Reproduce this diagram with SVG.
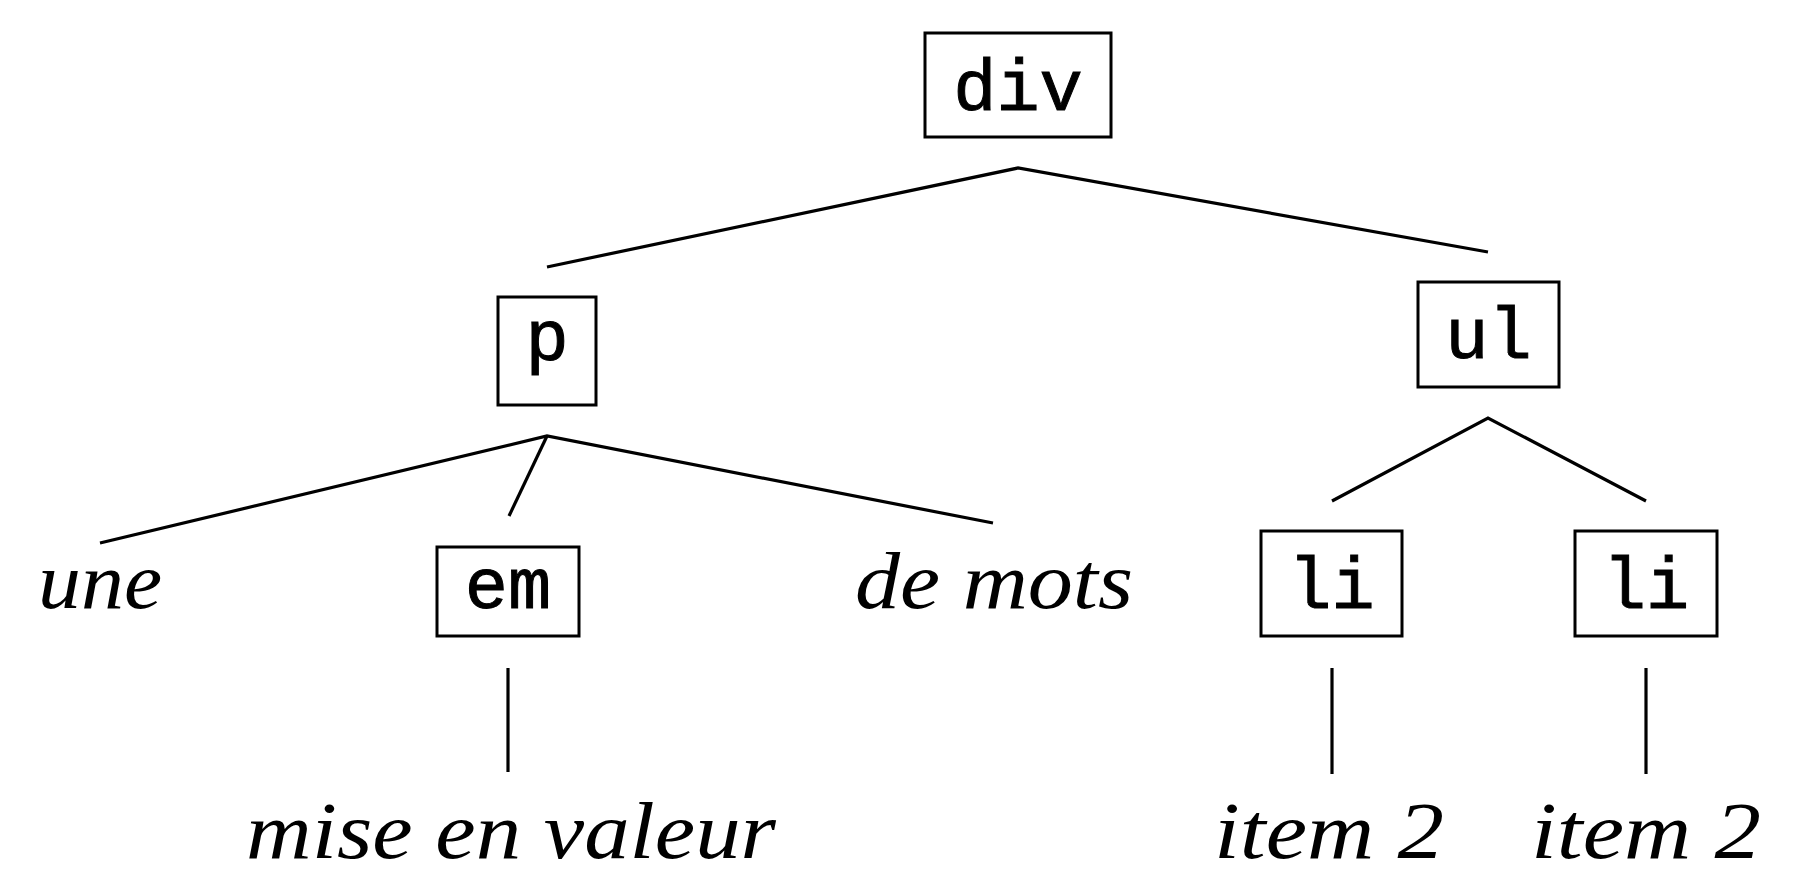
<svg xmlns="http://www.w3.org/2000/svg" width="1799" height="890" viewBox="0 0 1799 890">
<style>
.box{fill:#fff;stroke:#000;stroke-width:3}
.mono{font-family:"Liberation Mono","DejaVu Sans Mono",monospace;font-size:72px;fill:#000;stroke:#000;stroke-width:1;text-anchor:middle}
.it{font-family:"Liberation Serif","DejaVu Serif",serif;font-style:italic;font-size:80px;fill:#000;text-anchor:middle}
.edge{stroke:#000;stroke-width:3.2;fill:none;stroke-linecap:butt;stroke-linejoin:miter}
</style>
<rect width="1799" height="890" fill="#fff"/>
<g id="connectors">
<polyline class="edge" points="547,267 1018,168 1488,252"/>
<polyline class="edge" points="100,543 547,436 993,523"/>
<line class="edge" x1="547" y1="436" x2="509" y2="516"/>
<polyline class="edge" points="1332,501 1488,418 1646,501"/>
<line class="edge" x1="508" y1="668" x2="508" y2="772"/>
<line class="edge" x1="1332" y1="668" x2="1332" y2="774"/>
<line class="edge" x1="1646" y1="668" x2="1646" y2="774"/>
</g>
<g id="node-div"><rect class="box" x="925" y="33" width="186" height="104"/><text class="mono" x="1018" y="110">div</text></g>
<g id="node-p"><rect class="box" x="498" y="297" width="98" height="108"/><text class="mono" x="547" y="360">p</text></g>
<g id="node-ul"><rect class="box" x="1418" y="282" width="141" height="105"/><text class="mono" x="1488.5" y="358">ul</text></g>
<g id="node-une"><text class="it" x="100" y="608" textLength="124" lengthAdjust="spacingAndGlyphs">une</text></g>
<g id="node-em"><rect class="box" x="437" y="547" width="142" height="89"/><text class="mono" x="508" y="608">em</text></g>
<g id="node-demots"><text class="it" x="994" y="608" textLength="278" lengthAdjust="spacingAndGlyphs">de mots</text></g>
<g id="node-li1"><rect class="box" x="1261" y="531" width="141" height="105"/><text class="mono" x="1331.5" y="608">li</text></g>
<g id="node-li2"><rect class="box" x="1575" y="531" width="142" height="105"/><text class="mono" x="1646" y="608">li</text></g>
<g id="node-mise"><text class="it" x="511" y="858" textLength="530" lengthAdjust="spacingAndGlyphs">mise en valeur</text></g>
<g id="node-item1"><text class="it" x="1329" y="858" textLength="230" lengthAdjust="spacingAndGlyphs">item 2</text></g>
<g id="node-item2"><text class="it" x="1646" y="858" textLength="230" lengthAdjust="spacingAndGlyphs">item 2</text></g>
</svg>
